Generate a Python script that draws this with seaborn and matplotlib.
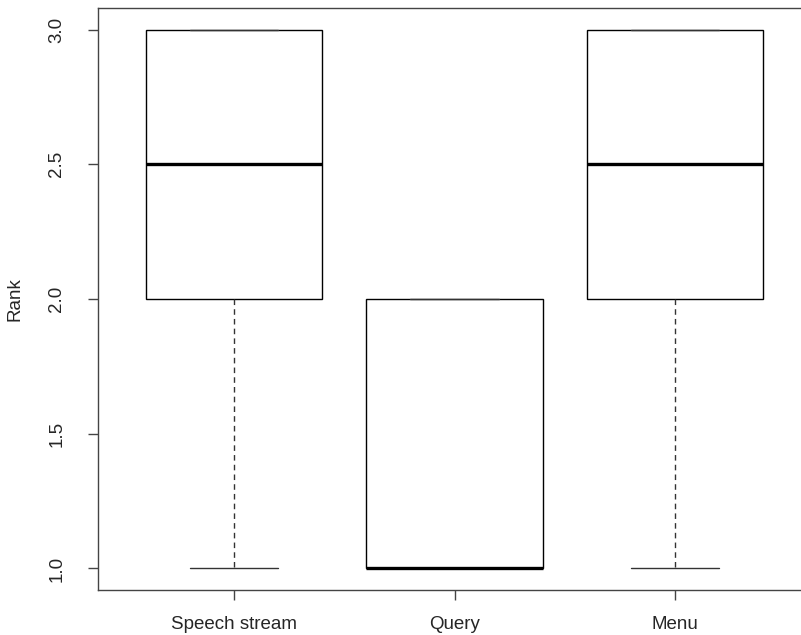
import pandas as pd
import matplotlib
matplotlib.use("Agg")
import matplotlib.pyplot as plt
import seaborn as sns

# -----------------------------
# Data: ranks given by 10 participants to each interface
# -----------------------------
conditions = ["Speech stream", "Query", "Menu"]
speech_ranks = [1, 1, 2, 2, 2, 3, 3, 3, 3, 3]
query_ranks = [1, 1, 1, 1, 1, 1, 2, 2, 2, 2]
menu_ranks = [1, 1, 2, 2, 2, 3, 3, 3, 3, 3]

df = pd.DataFrame({
    "Condition": ["Speech stream"] * len(speech_ranks)
                 + ["Query"] * len(query_ranks)
                 + ["Menu"] * len(menu_ranks),
    "Rank": speech_ranks + query_ranks + menu_ranks,
})

# -----------------------------
# Style (R base graphics look)
# -----------------------------
sns.set_style("white")
plt.rcParams["font.family"] = ["Liberation Sans", "DejaVu Sans"]

fig = plt.figure(figsize=(8.01, 6.35), dpi=100)
ax = fig.add_axes([98 / 801, 45 / 635, 713 / 801, 582 / 635])

sns.boxplot(
    data=df, x="Condition", y="Rank", order=conditions,
    color="white", linecolor="black", linewidth=1.0, width=0.8,
    whis=1.5, showfliers=False, ax=ax,
    medianprops=dict(color="black", linewidth=2.4),
    whiskerprops=dict(color="#333333", linestyle=(0, (4, 3)), linewidth=1.0),
    capprops=dict(color="#333333", linewidth=1.0),
    boxprops=dict(edgecolor="black", linewidth=1.0),
)

ax.set_xlim(-0.62, 2.62)
ax.set_ylim(0.92, 3.08)
ax.set_yticks([1.0, 1.5, 2.0, 2.5, 3.0])
ax.set_yticklabels(["1.0", "1.5", "2.0", "2.5", "3.0"])

for side in ["left", "right", "top", "bottom"]:
    ax.spines[side].set_visible(True)
    ax.spines[side].set_color("#444444")
    ax.spines[side].set_linewidth(1.0)

ax.tick_params(axis="both", which="major", direction="out", length=7.5,
               width=1.0, color="#444444", labelsize=13.5,
               left=True, bottom=True)
ax.tick_params(axis="x", pad=11)
ax.tick_params(axis="y", pad=16, labelrotation=90)
for lab in ax.get_yticklabels():
    lab.set_va("center")

ax.set_xlabel("")
ax.set_ylabel("Rank", fontsize=13.5)
ax.yaxis.set_label_coords(-0.105, 0.5)

plt.savefig("out.png", dpi=100)
plt.close()
